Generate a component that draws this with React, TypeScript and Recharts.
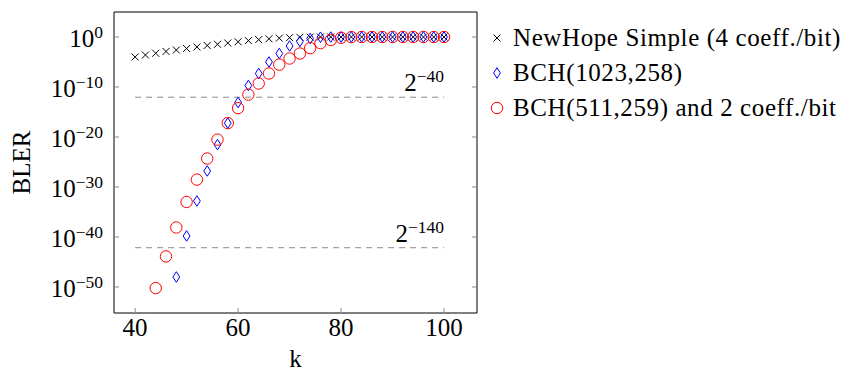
import React from 'react';
import { ScatterChart, Scatter, XAxis, YAxis, ReferenceLine, Label } from 'recharts';

const FONT = '"Liberation Serif", "DejaVu Serif", serif';
const FS = 25;
const SUP = 17.5;
const TICK_COLOR = '#8c8c8c';

// k values and block error rates
const newHopeK = [40, 42, 44, 46, 48, 50, 52, 54, 56, 58, 60, 62, 64, 66, 68, 70, 72, 74, 76, 78, 80, 82, 84, 86, 88, 90, 92, 94, 96, 98, 100];
const newHopeBler = [1e-4, 2.5e-4, 5.6e-4, 1.3e-3, 2.5e-3, 5e-3, 1e-2, 2e-2, 3.5e-2, 6.3e-2, 0.11, 0.19, 0.3, 0.44, 0.59, 0.74, 0.87, 0.95, 0.99, 1, 1, 1, 1, 1, 1, 1, 1, 1, 1, 1, 1];

const bch1023K = [48, 50, 52, 54, 56, 58, 60, 62, 64, 66, 68, 70, 72, 74, 76, 78, 80, 82, 84, 86, 88, 90, 92, 94, 96, 98, 100];
const bch1023Bler = [1e-48, 1.6e-40, 1.6e-33, 1.6e-27, 3e-22, 6e-18, 8e-14, 2e-10, 5e-8, 1e-5, 5e-4, 1.6e-2, 0.13, 0.5, 0.9, 0.99, 1, 1, 1, 1, 1, 1, 1, 1, 1, 1, 1];

const bch511K = [44, 46, 48, 50, 52, 54, 56, 58, 60, 62, 64, 66, 68, 70, 72, 74, 76, 78, 80, 82, 84, 86, 88, 90, 92, 94, 96, 98, 100];
const bch511Bler = [6e-51, 1.3e-44, 8e-39, 1e-33, 3e-29, 5e-25, 3e-21, 6e-18, 6e-15, 3e-12, 5e-10, 5e-8, 3e-6, 5e-5, 5e-4, 6e-3, 6e-2, 0.25, 0.7, 0.95, 1, 1, 1, 1, 1, 1, 1, 1, 1];

const xTicks = [40, 60, 80, 100];
const yTicks = [1e-50, 1e-40, 1e-30, 1e-20, 1e-10, 1];

const thresholds = [2 ** -40, 2 ** -140];
const thresholdExps = ['−40', '−140'];

const seriesNames = ['NewHope Simple (4 coeff./bit)', 'BCH(1023,258)', 'BCH(511,259) and 2 coeff./bit'];

const toPoints = (ks: number[], vals: number[]) => ks.map((k, i) => ({ k, bler: vals[i] }));

const newHopeData = toPoints(newHopeK, newHopeBler);
const bch1023Data = toPoints(bch1023K, bch1023Bler);
const bch511Data = toPoints(bch511K, bch511Bler);

const Cross = ({ cx, cy }: any) => (
  <g stroke="#000" strokeWidth={1}>
    <line x1={cx - 3.5} y1={cy - 3.5} x2={cx + 3.5} y2={cy + 3.5} />
    <line x1={cx - 3.5} y1={cy + 3.5} x2={cx + 3.5} y2={cy - 3.5} />
  </g>
);

const Diamond = ({ cx, cy }: any) => (
  <path
    d={`M${cx},${cy - 5.3} L${cx + 3.4},${cy} L${cx},${cy + 5.3} L${cx - 3.4},${cy} Z`}
    fill="none"
    stroke="#0000ff"
    strokeWidth={1}
  />
);

const Ring = ({ cx, cy }: any) => (
  <circle cx={cx} cy={cy} r={5.7} fill="none" stroke="#ff0000" strokeWidth={1} />
);

// tick marks point into the plot on all four sides (pgfplots style)
// bottom axis: label y = axis - 5 + tickMargin(10)
const XTick = ({ x, y, payload }: any) => (
  <g>
    <line x1={x} x2={x} y1={y - 10} y2={y - 5} stroke={TICK_COLOR} />
    <text x={x} y={y} dy={18} textAnchor="middle" fontFamily={FONT} fontSize={FS} fill="#000">
      {payload.value}
    </text>
  </g>
);

const TopTick = ({ x, y }: any) => <line x1={x} x2={x} y1={y - 5} y2={y} stroke={TICK_COLOR} />;

const RightTick = ({ x, y }: any) => <line x1={x} x2={x + 5} y1={y} y2={y} stroke={TICK_COLOR} />;

// left axis: label x = axis + 5 - tickMargin(16)
const YTick = ({ x, y, payload }: any) => {
  const exp = Math.round(Math.log10(payload.value));
  return (
    <g>
      <line x1={x + 11} x2={x + 16} y1={y} y2={y} stroke={TICK_COLOR} />
      <text x={x} y={y} textAnchor="end" fontFamily={FONT} fill="#000">
        <tspan dy={10} fontSize={FS}>10</tspan>
        <tspan dy={-9} fontSize={SUP}>{exp === 0 ? '0' : `−${-exp}`}</tspan>
      </text>
    </g>
  );
};

const thresholdLabel = (exp: string) => (props: any) => {
  const vb = props.viewBox || {};
  const right = vb.x + (vb.width || 0);
  return (
    <text x={right} y={vb.y} textAnchor="end" fontFamily={FONT} fill="#000">
      <tspan dy={-6} fontSize={FS}>2</tspan>
      <tspan dy={-9} fontSize={SUP}>{exp}</tspan>
    </text>
  );
};

const LegendMarker = ({ index }: { index: number }) => (
  <svg width={14} height={14} style={{ display: 'block' }}>
    {index === 0 && <Cross cx={7} cy={7} />}
    {index === 1 && <Diamond cx={7} cy={7} />}
    {index === 2 && <Ring cx={7} cy={7} />}
  </svg>
);

export default function App() {
  return (
    <div style={{ position: 'absolute', left: 0, top: 0, width: 842, height: 371, background: '#fff' }}>
      <ScatterChart width={842} height={371} margin={{ top: 11, right: 364, bottom: 0, left: 0 }}>
        <XAxis
          dataKey="k"
          type="number"
          domain={[35.9, 106.4]}
          ticks={xTicks}
          allowDataOverflow
          height={58}
          stroke="#000"
          tickSize={-5}
          tickMargin={10}
          tickLine={false}
          tick={<XTick />}
        >
          <Label
            content={({ viewBox }: any) => (
              <text x={viewBox.x + viewBox.width / 2} y={viewBox.y + viewBox.height - 4} textAnchor="middle" fontFamily={FONT} fontSize={FS} fill="#000">
                k
              </text>
            )}
          />
        </XAxis>
        <XAxis
          xAxisId="top"
          orientation="top"
          type="number"
          domain={[35.9, 106.4]}
          ticks={xTicks}
          allowDataOverflow
          height={1}
          stroke="#000"
          tickSize={-5}
          tickMargin={0}
          tickLine={false}
          tick={<TopTick />}
        />
        <YAxis
          dataKey="bler"
          type="number"
          scale="log"
          domain={[6.3e-56, 1e5]}
          ticks={yTicks}
          allowDataOverflow
          width={114}
          stroke="#000"
          tickSize={-5}
          tickMargin={16}
          tickLine={false}
          tick={<YTick />}
        >
          <Label
            content={({ viewBox }: any) => {
              const cy = viewBox.y + viewBox.height / 2;
              return (
                <text x={30} y={cy} transform={`rotate(-90 30 ${cy})`} textAnchor="middle" fontFamily={FONT} fontSize={FS} fill="#000">
                  BLER
                </text>
              );
            }}
          />
        </YAxis>
        <YAxis
          yAxisId="right"
          orientation="right"
          type="number"
          scale="log"
          domain={[6.3e-56, 1e5]}
          ticks={yTicks}
          allowDataOverflow
          width={1}
          stroke="#000"
          tickSize={-5}
          tickMargin={0}
          tickLine={false}
          tick={<RightTick />}
        />
        {thresholds.map((t, i) => (
          <ReferenceLine
            key={`thr-${i}`}
            segment={[{ x: 40, y: t }, { x: 100, y: t }]}
            stroke="#8a8a8a"
            strokeDasharray="6 5"
            label={thresholdLabel(thresholdExps[i])}
          />
        ))}
        <Scatter name={seriesNames[0]} data={newHopeData} shape={<Cross />} isAnimationActive={false} />
        <Scatter name={seriesNames[1]} data={bch1023Data} shape={<Diamond />} isAnimationActive={false} />
        <Scatter name={seriesNames[2]} data={bch511Data} shape={<Ring />} isAnimationActive={false} />
      </ScatterChart>
      <div style={{ position: 'absolute', left: 490, top: 20, fontFamily: FONT, fontSize: FS, color: '#000', letterSpacing: 0.6 }}>
        {seriesNames.map((name, i) => (
          <div key={name} style={{ display: 'flex', alignItems: 'center', height: 35, whiteSpace: 'nowrap' }}>
            <LegendMarker index={i} />
            <span style={{ marginLeft: 9 }}>{name}</span>
          </div>
        ))}
      </div>
    </div>
  );
}
